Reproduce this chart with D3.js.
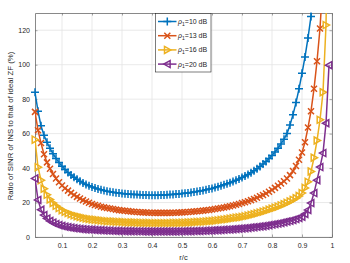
<!DOCTYPE html>
<html>
<head>
<meta charset="utf-8">
<script src="https://cdn.jsdelivr.net/npm/d3@7/dist/d3.min.js"></script>
<style>
  body { margin: 0; background: #fff; }
  text { font-family: "Liberation Sans", Arial, sans-serif; fill: #262626; }
</style>
</head>
<body>
<script>
// r/c sample points
var rc = [0.01,0.02,0.03,0.04,0.05,0.06,0.07,0.08,0.09,0.10,
  0.11,0.12,0.13,0.14,0.15,0.16,0.17,0.18,0.19,0.20,
  0.21,0.22,0.23,0.24,0.25,0.26,0.27,0.28,0.29,0.30,
  0.31,0.32,0.33,0.34,0.35,0.36,0.37,0.38,0.39,0.40,
  0.41,0.42,0.43,0.44,0.45,0.46,0.47,0.48,0.49,0.50,
  0.51,0.52,0.53,0.54,0.55,0.56,0.57,0.58,0.59,0.60,
  0.61,0.62,0.63,0.64,0.65,0.66,0.67,0.68,0.69,0.70,
  0.71,0.72,0.73,0.74,0.75,0.76,0.77,0.78,0.79,0.80,
  0.81,0.82,0.83,0.84,0.85,0.86,0.87,0.88,0.89,0.90,
  0.91,0.92,0.93,0.94,0.95,0.96,0.97,0.98,0.99];

// ratio (%) for rho1 = 10 dB
var ratio10 = [84,73,64.5,59,55,51.5,48.3,45.6,43.2,41.1,
  39.2,37.5,36,34.7,33.5,32.4,31.4,30.5,29.7,29,
  28.4,27.9,27.4,27,26.6,26.3,26,25.7,25.5,25.3,
  25.1,24.9,24.8,24.7,24.6,24.5,24.4,24.4,24.3,24.3,
  24.3,24.3,24.4,24.4,24.5,24.6,24.7,24.9,25,25.2,
  25.4,25.6,25.8,26.1,26.4,26.7,27,27.4,27.8,28.2,
  28.7,29.2,29.7,30.3,30.9,31.5,32.2,32.9,33.7,34.5,
  35.4,36.3,37.3,38.4,39.6,40.9,42.3,43.8,45.5,47.3,
  49.3,51.5,54,56.8,60,65,71,78,86,95,
  104.5,115.5,128,148,175,210,265,360,560];

// rho1 = 13 dB
var ratio13 = [72.6,62,54.5,48,43.3,39.6,36.6,34,31.8,29.9,
  28.3,26.9,25.6,24.4,23.3,22.3,21.4,20.6,19.9,19.2,
  18.6,18.1,17.6,17.2,16.8,16.5,16.2,15.9,15.6,15.4,
  15.2,15,14.8,14.7,14.5,14.4,14.3,14.2,14.1,14.1,
  14,14,14,14,14,14,14.1,14.1,14.2,14.3,
  14.4,14.5,14.6,14.8,14.9,15.1,15.3,15.5,15.7,16,
  16.2,16.5,16.8,17.1,17.5,17.9,18.3,18.7,19.2,19.7,
  20.2,20.8,21.4,22.1,22.8,23.6,24.4,25.3,26.3,27.3,
  28.5,29.7,31,32.4,33.9,35.9,38.3,41.2,44.8,49,
  55,63.5,73,86,102,121,150,205,330];

// rho1 = 16 dB
var ratio16 = [56.5,40.5,33,28,24.5,21.8,19.8,18.1,16.8,15.6,
  14.7,13.9,13.2,12.6,12.1,11.6,11.2,10.8,10.5,10.2,
  10,9.8,9.6,9.4,9.2,9.1,9,8.9,8.8,8.7,
  8.6,8.5,8.4,8.4,8.3,8.3,8.2,8.2,8.2,8.1,
  8.1,8.1,8.1,8.1,8.1,8.1,8.2,8.2,8.2,8.3,
  8.3,8.4,8.5,8.6,8.7,8.8,8.9,9,9.2,9.3,
  9.5,9.7,9.9,10.1,10.3,10.6,10.9,11.2,11.4,11.6,
  12,12.4,12.8,13.2,13.7,14.2,14.7,15.2,15.8,16.4,
  17,17.6,18.3,19,19.8,20.6,21.5,22.5,23.8,25.5,
  28.5,32,38,46,56,68,84,123,230];

// rho1 = 20 dB
var ratio20 = [34,21.5,15.8,12.7,10.7,9.3,8.3,7.5,6.9,6.4,
  6,5.7,5.4,5.1,4.9,4.7,4.55,4.4,4.3,4.2,
  4.1,4,3.9,3.8,3.75,3.7,3.6,3.55,3.5,3.45,
  3.4,3.4,3.35,3.3,3.3,3.3,3.25,3.25,3.2,3.2,
  3.2,3.2,3.2,3.2,3.2,3.2,3.25,3.25,3.3,3.3,
  3.35,3.4,3.4,3.45,3.5,3.55,3.6,3.7,3.75,3.8,
  3.9,4,4.1,4.2,4.3,4.4,4.5,4.65,4.8,4.95,
  5.1,5.3,5.5,5.7,5.9,6.1,6.3,6.6,6.9,7.2,
  7.5,7.8,8.2,8.6,9,9.4,9.9,10.5,11.1,11.8,
  13.4,15.7,19.7,25.5,33,40.6,48.7,66,99.7];

var snrLabels = ['10', '13', '16', '20'];
var xTicks = [0.1, 0.2, 0.3, 0.4, 0.5, 0.6, 0.7, 0.8, 0.9, 1];
var yTicks = [0, 20, 40, 60, 80, 100, 120];

var width = 350;
var height = 263;
var margin = {top: 13, right: 18, bottom: 26, left: 35};

var colors = ['#0072BD', '#D95319', '#EDB120', '#7E2F8E'];
var markers = [
  'M-4,0H4M0,-4V4',
  'M-3,-3L3,3M-3,3L3,-3',
  'M-2.8,-3.5L3.5,0L-2.8,3.5Z',
  'M2.8,-3.5L-3.5,0L2.8,3.5Z'
];

var series = [ratio10, ratio13, ratio16, ratio20].map(function(vals, i) {
  return {
    label: snrLabels[i],
    color: colors[i],
    marker: markers[i],
    points: rc.map(function(r, j) { return {r: r, v: vals[j]}; })
  };
});

var svg = d3.select('body').append('svg')
  .attr('width', width)
  .attr('height', height);

var x = d3.scaleLinear().domain([0.01, 1]).range([margin.left, width - margin.right]);
var y = d3.scaleLinear().domain([0, 130]).range([height - margin.bottom, margin.top]);

var x0 = x.range()[0], x1 = x.range()[1];
var y0 = y.range()[0], y1 = y.range()[1];

//grid
svg.append('g').selectAll('line').data(xTicks).enter().append('line')
  .attr('x1', function(d) { return x(d); })
  .attr('x2', function(d) { return x(d); })
  .attr('y1', y0).attr('y2', y1)
  .attr('stroke', '#e3e3e3').attr('stroke-width', 0.8);
svg.append('g').selectAll('line').data(yTicks).enter().append('line')
  .attr('y1', function(d) { return y(d); })
  .attr('y2', function(d) { return y(d); })
  .attr('x1', x0).attr('x2', x1)
  .attr('stroke', '#e3e3e3').attr('stroke-width', 0.8);

//axes, ticks inward
svg.append('g')
  .attr('transform', 'translate(0,' + y0 + ')')
  .call(d3.axisBottom(x).tickValues(xTicks).tickSizeInner(-2.5).tickSizeOuter(0).tickPadding(6)
    .tickFormat(function(d) { return d === 1 ? '1' : d3.format('.1f')(d); }));
svg.append('g')
  .attr('transform', 'translate(0,' + y1 + ')')
  .call(d3.axisTop(x).tickValues(xTicks).tickSizeInner(-2.5).tickSizeOuter(0).tickFormat(''));
svg.append('g')
  .attr('transform', 'translate(' + x0 + ',0)')
  .call(d3.axisLeft(y).tickValues(yTicks).tickSizeInner(-2.5).tickSizeOuter(0).tickPadding(5));
svg.append('g')
  .attr('transform', 'translate(' + x1 + ',0)')
  .call(d3.axisRight(y).tickValues(yTicks).tickSizeInner(-2.5).tickSizeOuter(0).tickFormat(''));

svg.selectAll('.domain').attr('stroke', '#6b6b6b').attr('stroke-width', 0.8);
svg.selectAll('.tick line').attr('stroke', '#6b6b6b').attr('stroke-width', 0.6);
svg.selectAll('.tick text').attr('font-size', 7).attr('fill', '#262626')
  .attr('font-family', '"Liberation Sans", Arial, sans-serif');

// axis labels
svg.append('text')
  .attr('x', (x0 + x1) / 2).attr('y', 260)
  .attr('text-anchor', 'middle').attr('font-size', 7.5)
  .text('r/c');
svg.append('text')
  .attr('transform', 'translate(13,' + ((y0 + y1) / 2 + 1) + ') rotate(-90)')
  .attr('text-anchor', 'middle').attr('font-size', 7.8)
  .text('Ratio of SINR of INS to that of ideal ZF (%)');

// clip for the curves
svg.append('clipPath').attr('id', 'plotclip')
  .append('rect').attr('x', x0).attr('y', y1).attr('width', x1 - x0).attr('height', y0 - y1);

var line = d3.line()
  .x(function(d) { return x(d.r); })
  .y(function(d) { return y(d.v); });

var groups = svg.selectAll('.series').data(series).enter().append('g')
  .attr('class', 'series');

groups.append('path')
  .attr('clip-path', 'url(#plotclip)')
  .attr('fill', 'none')
  .attr('stroke', function(d) { return d.color; })
  .attr('stroke-width', 1.5)
  .attr('d', function(d) { return line(d.points); });

groups.each(function(s) {
  d3.select(this).selectAll('.mk')
    .data(s.points.filter(function(p) { return p.v <= 130; }))
    .enter().append('path')
    .attr('class', 'mk')
    .attr('transform', function(p) { return 'translate(' + x(p.r) + ',' + y(p.v) + ')'; })
    .attr('d', s.marker)
    .attr('fill', 'none')
    .attr('stroke', s.color)
    .attr('stroke-width', 1.5);
});

// legend
var legend = svg.append('g');
legend.append('rect')
  .attr('x', 155.5).attr('y', 13.5).attr('width', 55.5).attr('height', 58.5)
  .attr('fill', '#fff').attr('stroke', '#262626').attr('stroke-width', 0.6);

var items = legend.selectAll('.item').data(series).enter().append('g')
  .attr('class', 'item')
  .attr('transform', function(d, i) { return 'translate(0,' + (21.5 + i * 14.2) + ')'; });

items.append('line')
  .attr('x1', 158).attr('x2', 176.5).attr('y1', 0).attr('y2', 0)
  .attr('stroke', function(d) { return d.color; }).attr('stroke-width', 1.5);
items.append('path')
  .attr('transform', 'translate(167.3,0)')
  .attr('d', function(d) { return d.marker; })
  .attr('fill', 'none')
  .attr('stroke', function(d) { return d.color; }).attr('stroke-width', 1.5);

var lt = items.append('text')
  .attr('x', 178).attr('y', 2.5).attr('font-size', 7);
lt.append('tspan').attr('font-style', 'italic').text('\u03c1');
lt.append('tspan').attr('font-size', 5).attr('dy', 1.8).text('1');
lt.append('tspan').attr('dy', -1.8).text(function(d) { return '=' + d.label + ' dB'; });
</script>
</body>
</html>
